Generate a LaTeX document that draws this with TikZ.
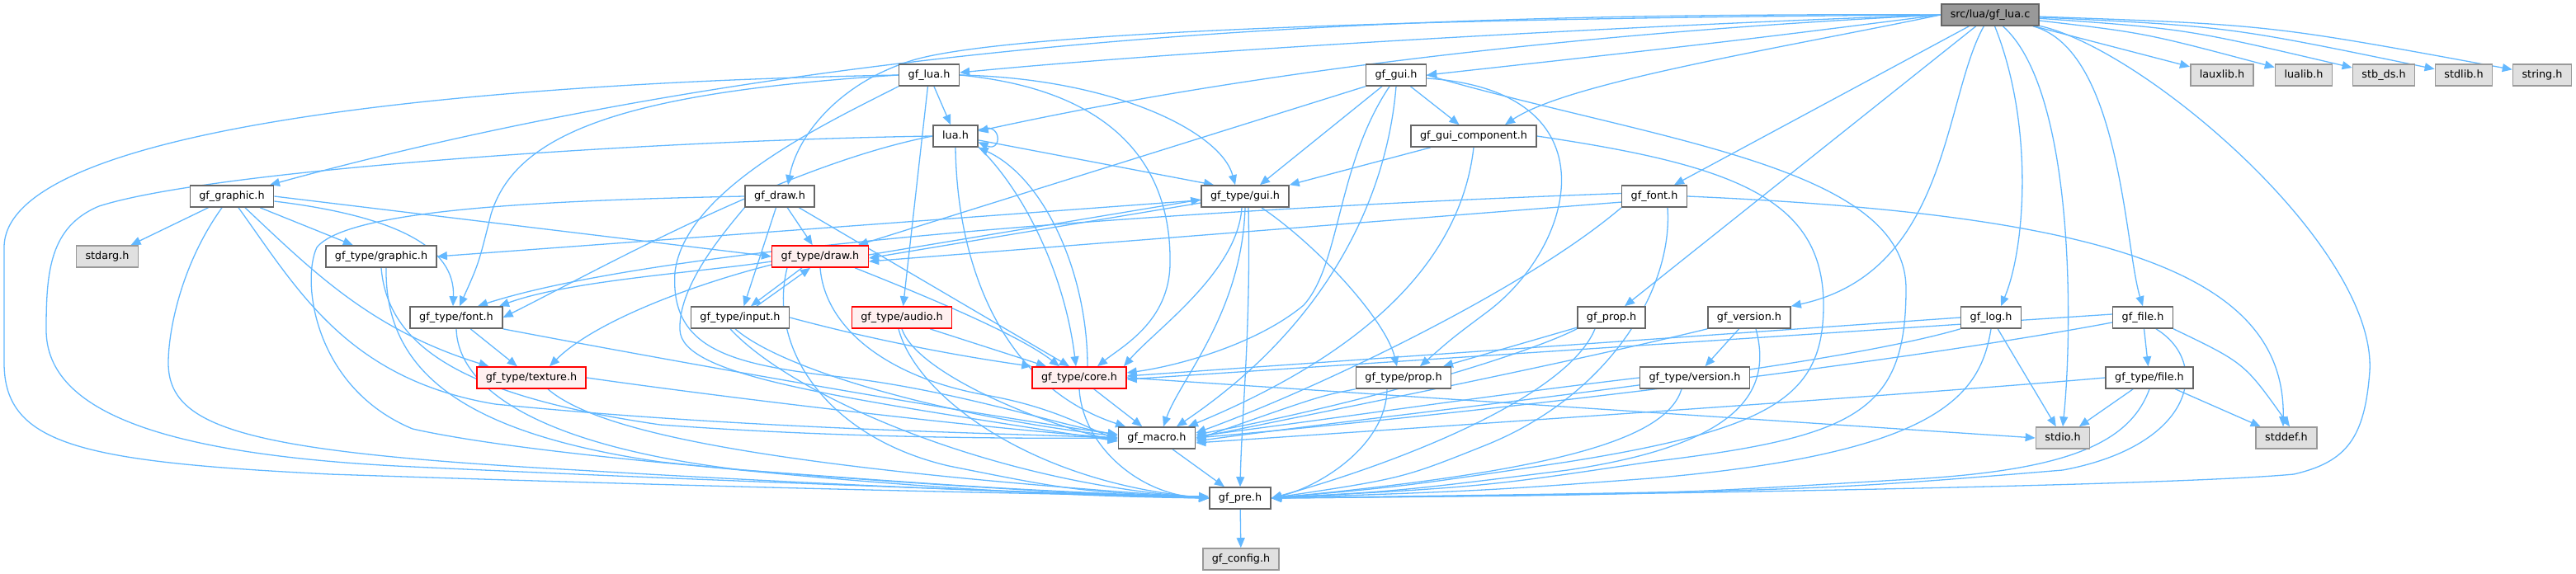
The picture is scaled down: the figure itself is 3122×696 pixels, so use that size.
\documentclass[tikz,border=0pt]{standalone}
\usepackage{fontspec}
\setmainfont{DejaVu Sans}
\usetikzlibrary{arrows.meta, backgrounds}

\definecolor{edgeblue}{HTML}{63B8FF}
\definecolor{hdrgray}{HTML}{666666}
\definecolor{sysgray}{HTML}{999999}
\definecolor{sysfill}{HTML}{E0E0E0}
\definecolor{redfill}{HTML}{FFF0F0}
\definecolor{rootfill}{HTML}{999999}

\tikzset{
  hdr/.style={draw=hdrgray, fill=white, line width=0.8pt,
    font=\fontsize{6.4}{7.7}\selectfont, inner xsep=5.5pt, inner ysep=0pt,
    minimum height=13pt, text height=4.8pt, text depth=1.3pt},
  syshdr/.style={hdr, draw=sysgray, fill=sysfill},
  cuthdr/.style={hdr, draw=red, fill=redfill},
  roothdr/.style={hdr, fill=rootfill},
  incl/.style={draw=edgeblue, line width=0.65pt, -{Triangle[length=6pt,width=5pt]}}
}

\begin{document}
\begin{tikzpicture}[x=0.5pt, y=-0.5pt]
\useasboundingbox (0,0) rectangle (3122,696);

% top rows
\node[roothdr] (src) at (2412,18) {src/lua/gf\_lua.c};
\node[hdr] (gflua) at (1126,91) {gf\_lua.h};
\node[hdr] (gfgui) at (1692,91) {gf\_gui.h};
\node[syshdr] (lauxlib) at (2693,91) {lauxlib.h};
\node[syshdr] (lualib) at (2792,91) {lualib.h};
\node[syshdr] (stbds) at (2889,91) {stb\_ds.h};
\node[syshdr] (stdlib) at (2986,91) {stdlib.h};
\node[syshdr] (stringh) at (3081,91) {string.h};
\node[hdr] (luah) at (1158,165) {lua.h};
\node[hdr] (guicomp) at (1786,165) {gf\_gui\_component.h};

% middle rows
\node[hdr] (gfgraphic) at (281,238) {gf\_graphic.h};
\node[hdr] (gfdraw) at (945,238) {gf\_draw.h};
\node[hdr] (tgui) at (1509,238) {gf\_type/gui.h};
\node[hdr] (gffont) at (2005,238) {gf\_font.h};
\node[syshdr] (stdarg) at (130,311) {stdarg.h};
\node[hdr] (tgraphic) at (462,311) {gf\_type/graphic.h};
\node[cuthdr] (tdraw) at (994,311) {gf\_type/draw.h};
\node[hdr] (tfont) at (553,385) {gf\_type/font.h};
\node[hdr] (tinput) at (897,385) {gf\_type/input.h};
\node[cuthdr] (taudio) at (1093,385) {gf\_type/audio.h};
\node[hdr] (gfprop) at (1953,385) {gf\_prop.h};
\node[hdr] (gfversion) at (2120,385) {gf\_version.h};
\node[hdr] (gflog) at (2413,385) {gf\_log.h};
\node[hdr] (gffile) at (2597,385) {gf\_file.h};

% bottom rows
\node[cuthdr] (ttexture) at (644,458) {gf\_type/texture.h};
\node[cuthdr] (tcore) at (1308,458) {gf\_type/core.h};
\node[hdr] (tprop) at (1701,458) {gf\_type/prop.h};
\node[hdr] (tversion) at (2054,458) {gf\_type/version.h};
\node[hdr] (tfile) at (2605,458) {gf\_type/file.h};
\node[hdr] (gfmacro) at (1402,531) {gf\_macro.h};
\node[syshdr] (stdio) at (2500,531) {stdio.h};
\node[syshdr] (stddef) at (2771,531) {stddef.h};
\node[hdr] (gfpre) at (1503,604) {gf\_pre.h};
\node[syshdr] (gfconfig) at (1504,678) {gf\_config.h};

\begin{scope}[on background layer]
% src/lua/gf_lua.c
\draw[incl] (src) -- (lauxlib);
\draw[incl] (src) .. controls (2600,40) .. (lualib);
\draw[incl] (src) .. controls (2650,35) .. (stbds);
\draw[incl] (src) .. controls (2700,32) .. (stdlib);
\draw[incl] (src) .. controls (2750,30) .. (stringh);
\draw[incl] (src) .. controls (2570,60) and (2575,300) .. (gffile.north);
\draw[incl] (src) .. controls (2515,110) and (2512,400) .. (stdio.north);
\draw[incl] (src) .. controls (2465,150) and (2455,300) .. ([xshift=6pt]gflog.north);
\draw[incl] (src) .. controls (2355,120) and (2362,330) .. (gfversion.north east);
\draw[incl] (src) -- ([xshift=8pt]gfprop.north);
\draw[incl] (src) -- ([xshift=12pt]gffont.north);
\draw[incl] (src.west) .. controls (2150,60) and (1900,100) .. ([xshift=19pt]guicomp.north);
\draw[incl] (src.west) .. controls (2100,50) .. (gfgui.east);
\draw[incl] (src.west) .. controls (1900,40) and (1500,90) .. ([yshift=3pt]luah.east);
\draw[incl] (src.west) .. controls (2000,30) and (1450,60) .. ([yshift=1.5pt]gflua.east);
\draw[incl] (src.west) .. controls (1700,22) and (1200,40) .. (1100,75) .. controls (1010,105) and (965,170) .. ([xshift=5pt]gfdraw.north);
\draw[incl] (src.west) .. controls (1700,15) and (1000,40) .. ([xshift=23pt]gfgraphic.north);
\draw[incl] (src) .. controls (2600,60) and (2880,300) .. (2872,450) .. controls (2866,530) and (2845,560) .. (2780,575) .. controls (2600,592) and (1700,603) .. (gfpre.east);

% gf_lua.h
\draw[incl] (gflua) -- (luah);
\draw[incl] (gflua) -- (taudio);
\draw[incl] (gflua.east) .. controls (1350,95) and (1480,160) .. ([xshift=-6pt]tgui.north);
\draw[incl] (gflua.east) .. controls (1360,110) and (1420,210) .. (1418,320) .. controls (1417,390) and (1360,420) .. ([xshift=11pt]tcore.north);
\draw[incl] (gflua.west) .. controls (760,112) and (625,160) .. (595,260) .. controls (580,320) .. ([xshift=2pt]tfont.north);
\draw[incl] (gflua.west) .. controls (600,100) and (5,150) .. (5,300) -- (5,440) .. controls (5,540) and (100,560) .. (400,575) .. controls (900,592) and (1300,600) .. ([yshift=1pt]gfpre.west);
\draw[incl] (gflua.south west) .. controls (1000,150) and (830,230) .. (818,330) .. controls (812,420) and (880,440) .. (1000,455) .. controls (1150,470) and (1280,515) .. ([yshift=2pt]gfmacro.west);

% lua.h
\draw[incl] (luah.15) .. controls (1215,145) and (1215,185) .. (luah.-15);
\draw[incl] (luah.-25) .. controls (1240,230) and (1290,330) .. ([xshift=-2pt]tcore.north);
\draw[incl] ([xshift=5pt]tcore.north) .. controls (1318,330) and (1265,215) .. (luah.south east);
\draw[incl] (luah.-10) -- (tgui.160);
\draw[incl] (luah.west) .. controls (800,170) and (260,205) .. (120,250) .. controls (60,275) and (56,330) .. (56,400) .. controls (56,500) and (200,552) .. (500,566) .. controls (900,585) and (1300,598) .. (gfpre.west);
\draw[incl] (luah.south) .. controls (1160,330) and (1220,470) .. (gfmacro.160);
\draw[incl] (luah.west) .. controls (950,200) and (720,330) .. (tfont.east);

% gf_graphic.h
\draw[incl] (gfgraphic) -- (stdarg);
\draw[incl] (gfgraphic) -- (tgraphic);
\draw[incl] (gfgraphic.east) -- (tdraw.west);
\draw[incl] ([yshift=-3pt]gfgraphic.east) .. controls (480,262) and (552,300) .. ([xshift=-2pt]tfont.north);
\draw[incl] ([xshift=8pt]gfgraphic.south) .. controls (380,330) and (450,400) .. (ttexture.165);
\draw[incl] ([xshift=4pt]gfgraphic.south) .. controls (360,350) and (420,460) .. (600,490) .. controls (900,520) and (1200,525) .. (gfmacro.west);
\draw[incl] ([xshift=-6pt]gfgraphic.south) .. controls (220,320) and (204,400) .. (204,440) .. controls (204,520) and (300,548) .. (700,570) .. controls (1000,588) and (1300,600) .. (gfpre.west);

% gf_type/graphic.h
\draw[incl] (tgraphic.south) .. controls (470,420) and (560,480) .. (800,515) .. controls (1000,530) and (1200,532) .. (gfmacro.west);
\draw[incl] ([xshift=3pt]tgraphic.south) .. controls (466,450) and (560,525) .. (800,560) .. controls (1100,592) and (1300,602) .. (gfpre.west);

% gf_draw.h
\draw[incl] (gfdraw) -- (tdraw);
\draw[incl] (gfdraw) -- (tinput);
\draw[incl] (gfdraw) -- ([xshift=-6pt]tcore.north);
\draw[incl] (gfdraw.south west) .. controls (870,290) and (822,350) .. (824,400) .. controls (826,455) and (1000,480) .. ([yshift=-2pt]gfmacro.west);
\draw[incl] (gfdraw.west) .. controls (650,243) and (420,255) .. (384,300) .. controls (365,340) and (380,470) .. (500,520) .. controls (700,565) and (1300,600) .. (gfpre.west);

% gf_type/draw.h
\draw[incl] ([yshift=1pt]tdraw.east) -- ([yshift=-2pt]tgui.west);
\draw[incl] ([yshift=-4pt]tgui.west) -- ([yshift=-1pt]tdraw.east);
\draw[incl] ([xshift=-11pt]tdraw.south) -- ([xshift=6.5pt]tinput.north);
\draw[incl] ([xshift=10pt]tinput.north) -- ([xshift=-6pt]tdraw.south);
\draw[incl] ([xshift=21pt]tdraw.south) .. controls (1150,370) and (1240,410) .. ([xshift=-12pt]tcore.north);
\draw[incl] ([yshift=-3pt]tdraw.west) .. controls (850,330) and (690,340) .. ([xshift=26pt]tfont.north);
\draw[incl] ([yshift=-5pt]tdraw.west) .. controls (840,345) and (720,390) .. ([xshift=11pt]ttexture.north);
\draw[incl] (tdraw.south) .. controls (1000,400) and (1080,460) .. (1200,480) .. controls (1280,495) and (1320,520) .. ([yshift=-1pt]gfmacro.west);
\draw[incl] ([xshift=-20pt]tdraw.south) .. controls (930,420) and (1000,530) .. (1150,565) .. controls (1300,595) .. (gfpre.west);

% gf_type/input.h
\draw[incl] (tinput.east) .. controls (1050,410) and (1150,430) .. (tcore.north west);
\draw[incl] ([xshift=-3pt]tinput.south) .. controls (950,450) and (1150,505) .. ([yshift=1pt]gfmacro.west);
\draw[incl] ([xshift=-6pt]tinput.south) .. controls (960,480) and (1200,585) .. (gfpre.west);

% gf_type/audio.h
\draw[incl] ([xshift=17pt]taudio.south) -- ([xshift=-20pt]tcore.north);
\draw[incl] (taudio.south) .. controls (1110,450) and (1250,510) .. ([yshift=-2pt]gfmacro.west);
\draw[incl] ([xshift=-2pt]taudio.south) .. controls (1110,480) and (1250,585) .. (gfpre.west);

% gf_type/font.h
\draw[incl] (tfont) -- (ttexture);
\draw[incl] (tfont.south east) .. controls (720,420) and (1100,490) .. ([yshift=2pt]gfmacro.west);
\draw[incl] (tfont.south) .. controls (555,470) and (650,540) .. (900,570) .. controls (1200,592) .. (gfpre.west);

% gf_type/texture.h
\draw[incl] (ttexture.east) .. controls (900,485) and (1200,520) .. (gfmacro.west);
\draw[incl] ([xshift=10pt]ttexture.south) .. controls (720,520) and (900,565) .. (gfpre.west);

% gf_type/core.h
\draw[incl] (tcore.east) -- (stdio.west);
\draw[incl] (tcore) -- (gfmacro);
\draw[incl] (tcore.south) .. controls (1312,540) and (1380,600) .. (gfpre.west);

% gf_type/gui.h
\draw[incl] (tgui.185) -- (tgraphic.east);
\draw[incl] ([xshift=10pt]tgui.south) .. controls (1600,300) and (1680,390) .. ([xshift=-4pt]tprop.north);
\draw[incl] ([xshift=-2pt]tgui.south) .. controls (1500,330) and (1400,400) .. ([xshift=27pt]tcore.north);
\draw[incl] (tgui.south) .. controls (1505,380) and (1430,460) .. ([xshift=4pt]gfmacro.north);
\draw[incl] ([xshift=2pt]tgui.south) .. controls (1516,400) and (1505,500) .. (gfpre.north);

% gf_gui.h
\draw[incl] (gfgui) -- (guicomp);
\draw[incl] (gfgui) -- ([xshift=9pt]tgui.north);
\draw[incl] (gfgui.south west) -- ([xshift=23pt]tdraw.north);
\draw[incl] ([xshift=-4pt]gfgui.south) .. controls (1620,200) and (1625,320) .. (1580,370) .. controls (1520,420) and (1420,445) .. ([yshift=3pt]tcore.east);
\draw[incl] (gfgui.south) .. controls (1680,250) and (1600,400) .. ([xshift=12pt]gfmacro.north);
\draw[incl] ([yshift=-2pt]gfgui.east) .. controls (1960,110) and (1910,300) .. (1800,380) .. controls (1760,410) .. ([xshift=10pt]tprop.north);
\draw[incl] (gfgui.east) .. controls (2000,170) and (2310,200) .. (2310,350) .. controls (2310,500) and (2250,530) .. (2000,560) .. controls (1800,590) .. (gfpre.east);

% gf_gui_component.h
\draw[incl] (guicomp) -- (tgui.north east);
\draw[incl] (guicomp.south) .. controls (1770,320) and (1650,430) .. (gfmacro.20);
\draw[incl] (guicomp.east) .. controls (2100,200) and (2210,240) .. (2210,370) .. controls (2210,480) and (2150,520) .. (1900,560) .. controls (1700,590) .. (gfpre.east);

% gf_font.h
\draw[incl] (gffont.190) -- ([yshift=-3pt]tdraw.east);
\draw[incl] (gffont.175) .. controls (1400,255) and (800,300) .. ([xshift=13pt]tfont.north);
\draw[incl] (gffont.south west) .. controls (1850,350) and (1600,470) .. ([yshift=3pt]gfmacro.east);
\draw[incl] ([xshift=8pt]gffont.south) .. controls (2028,350) and (1950,480) .. (1800,540) .. controls (1700,580) .. (gfpre.east);
\draw[incl] (gffont.east) .. controls (2550,260) and (2770,330) .. ([xshift=-2pt]stddef.north);

% gf_prop.h
\draw[incl] (gfprop) -- ([xshift=24pt]tprop.north);
\draw[incl] (gfprop.south west) .. controls (1850,430) and (1650,490) .. ([yshift=2pt]gfmacro.east);
\draw[incl] ([xshift=-10pt]gfprop.south) .. controls (1900,480) and (1700,560) .. (gfpre.east);

% gf_version.h
\draw[incl] (gfversion) -- (tversion);
\draw[incl] (gfversion.south west) .. controls (1900,440) and (1650,490) .. (gfmacro.east);
\draw[incl] ([xshift=4pt]gfversion.south) .. controls (2150,480) and (2100,540) .. (1900,570) .. controls (1700,595) .. (gfpre.east);
\draw[incl] (tversion.west) .. controls (1800,480) and (1600,510) .. ([yshift=1pt]gfmacro.east);
\draw[incl] ([xshift=-8pt]tversion.south) .. controls (2020,530) and (1900,570) .. (gfpre.east);

% gf_type/prop.h
\draw[incl] (tprop.south west) .. controls (1600,480) .. ([yshift=-1pt]gfmacro.east);
\draw[incl] ([xshift=-10pt]tprop.south) .. controls (1680,540) and (1600,590) .. (gfpre.east);

% gf_log.h
\draw[incl] (gflog) -- (stdio);
\draw[incl] (gflog.west) -- ([yshift=1pt]tcore.east);
\draw[incl] (gflog.south west) .. controls (2200,450) and (1700,500) .. ([yshift=-2pt]gfmacro.east);
\draw[incl] (gflog.south) .. controls (2400,480) and (2350,550) .. (2000,580) .. controls (1800,595) .. (gfpre.east);

% gf_file.h
\draw[incl] (gffile) -- (tfile);
\draw[incl] (gffile.south east) .. controls (2720,440) .. ([xshift=2pt]stddef.north);
\draw[incl] ([yshift=2pt]gffile.west) -- ([yshift=-1pt]tcore.east);
\draw[incl] ([yshift=-3pt]gffile.west) .. controls (2300,440) and (1800,500) .. (gfmacro.east);
\draw[incl] ([xshift=8pt]gffile.south) .. controls (2680,440) and (2660,540) .. (2500,570) .. controls (2200,595) .. (gfpre.east);
\draw[incl] (tfile) -- (stdio);
\draw[incl] (tfile) -- (stddef);
\draw[incl] (tfile.west) .. controls (2300,480) and (1700,520) .. ([yshift=-3pt]gfmacro.east);
\draw[incl] (tfile.south) .. controls (2580,540) and (2500,572) .. (2300,582) .. controls (2000,600) .. (gfpre.east);

% base
\draw[incl] (gfmacro) -- (gfpre);
\draw[incl] (gfpre) -- (gfconfig);
\end{scope}
\end{tikzpicture}
\end{document}
